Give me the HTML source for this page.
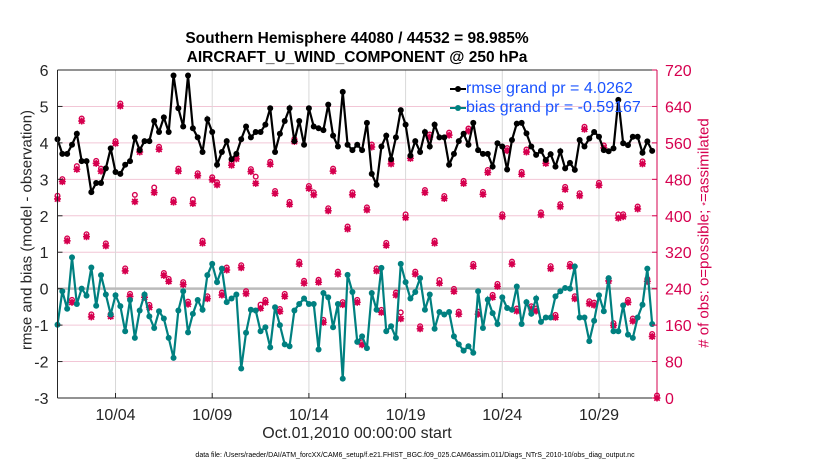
<!DOCTYPE html>
<html><head><meta charset="utf-8"><style>
body{margin:0;background:#fff;font-family:"Liberation Sans",sans-serif}
svg text{font-family:"Liberation Sans",sans-serif}
</style></head><body>
<svg id="c" width="830" height="470" viewBox="0 0 830 470"></svg>
<script>
const dayTicks = [3,8,13,18,23,28];
const dayTickLabels = ["10/04","10/09","10/14","10/19","10/24","10/29"];
const leftTicks = [-3,-2,-1,0,1,2,3,4,5,6];
const rightTicks = [0,80,160,240,320,400,480,560,640,720];
const rmse = [4.1,3.7,3.7,3.95,4.25,3.5,3.5,2.65,2.9,2.9,3.3,3.85,3.2,3.15,3.4,3.5,4.15,3.8,4.05,4.05,4.6,4.3,4.7,4.3,5.85,4.95,4.45,5.85,4.4,4.15,3.75,4.65,4.3,3.4,3.75,4.05,3.55,3.7,4.1,4.45,4.15,4.3,4.3,4.5,
4.95,3.75,4.25,4.6,4.95,4.05,4.6,3.95,4.95,4.45,4.4,4.35,5.05,4.2,3.9,5.4,3.95,3.8,3.95,3.8,4.55,3.15,2.85,3.9,4.2,3.55,4.15,4.9,4.5,3.65,4.05,3.75,4.3,3.9,4.5,4.15,4.15,3.4,3.7,4.05,4.25,
3.95,4.55,3.8,3.7,3.7,3.35,3.99,3.9,3.27,4.08,4.53,4.55,4.26,3.9,3.67,3.78,3.53,3.69,3.35,3.77,3.3,3.45,3.26,4.08,3.9,4.12,4.3,4.17,3.8,3.77,3.85,5.18,3.99,3.94,4.17,4.17,3.73,4.04,3.78];
const bias = [-0.99,-0.07,-0.55,0.86,-0.42,0,-0.19,0.58,-0.47,0.37,-0.16,-0.71,-0.18,-0.48,-1.17,-0.31,-1.35,-0.6,-0.16,-0.76,-1.08,-0.62,-0.82,-1.35,-1.9,-0.6,-0.07,-1.2,-0.69,-0.31,-0.58,0.37,0.68,0.18,0.55,-0.37,-0.27,-0.16,-2.19,-1.21,-0.58,-0.6,-1.17,-1.06,
-1.61,-0.51,-1.0,-1.53,-1.58,-0.6,-0.42,-0.27,-0.42,-0.42,-1.67,-0.12,-0.24,-1.06,-0.42,-2.47,0.38,-0.09,-1.46,-1.31,-1.63,-0.12,-0.58,0.57,-1.17,-1.03,-1.35,0.68,0.18,-0.27,-0.09,0.29,-0.58,-0.16,-1.1,-0.64,-0.71,-0.64,-1.31,-1.53,-1.7,
-1.58,-1.76,-0.07,-1.08,-0.3,-0.67,-0.97,-0.24,-0.53,-0.58,0.06,-0.97,-0.37,-0.69,-0.27,-0.91,-0.79,-0.79,-0.21,-0.07,0.02,0,0.61,-0.79,-0.79,-1.44,-0.88,-0.18,-0.62,0.29,-1.17,-1.17,-0.46,-1.26,-1.35,-0.79,-0.44,0.55,-0.97];
const nPossible = [444,475,345,210,509,608,354,178,515,498,334,179,564,641,279,223,446,540,221,199,462,546,269,256,430,498,249,206,436,488,340,218,479,468,226,281,511,525,286,229,497,486,205,210,
513,449,190,223,425,563,294,252,460,446,254,166,411,498,272,205,371,446,210,117,413,551,279,188,335,514,226,188,403,526,272,152,451,573,340,259,438,577,234,184,471,
586,289,184,447,495,221,245,398,543,294,191,491,540,196,191,402,515,284,177,420,458,289,218,444,590,207,204,467,549,257,159,403,398,210,169,415,514,256,135,0];
const nAssim = [437,475,345,210,502,608,354,178,515,498,334,179,559,641,279,223,431,540,221,199,451,546,269,256,430,498,249,206,427,488,340,218,479,468,226,281,511,525,286,229,497,471,197,210,
513,449,190,223,425,563,294,252,460,446,254,166,411,498,272,205,371,446,210,117,413,551,279,188,335,514,226,174,396,526,272,152,451,573,340,252,438,577,234,184,471,
586,289,184,447,495,221,245,398,543,294,191,491,540,196,191,402,515,284,177,420,458,289,218,444,590,207,204,467,549,257,159,395,398,210,169,415,514,256,135,0];

const L=57.5,R=657,T=70,B=398,DAYS=31;
const xs=d=>L+(R-L)*d/DAYS;
const yl=v=>B-(B-T)*(v+3)/9;
const yr=v=>B-(B-T)*v/720;
const svg=document.getElementById('c');
const NS='http://www.w3.org/2000/svg';
function mk(tag,at,parent){const e=document.createElementNS(NS,tag);for(const k in at)e.setAttribute(k,at[k]);(parent||svg).appendChild(e);return e;}
const MAG='#d6004f',TEAL='#008080';
leftTicks.forEach(v=>{const g=mk('line',{x1:L,x2:R,y1:yl(v),y2:yl(v),stroke:'#f2c6d6','stroke-width':1});

});
dayTicks.forEach(d=>{const g=mk('line',{x1:xs(d),x2:xs(d),y1:T,y2:B,stroke:'#d8d8d8','stroke-width':1});

});
const zl=mk('line',{x1:L,x2:R,y1:yl(0),y2:yl(0),stroke:'#bbbbbb','stroke-width':2.5});


const dt=0.25;
nAssim.forEach((v,i)=>{const x=xs(i*dt),y=yr(v);
const g=mk('g',{stroke:MAG,'stroke-width':1.5,fill:'none'});


mk('line',{x1:x-3.5,x2:x+3.5,y1:y,y2:y},g);mk('line',{x1:x,x2:x,y1:y-3.5,y2:y+3.5},g);
mk('line',{x1:x-2.7,x2:x+2.7,y1:y-2.7,y2:y+2.7},g);mk('line',{x1:x-2.7,x2:x+2.7,y1:y+2.7,y2:y-2.7},g);
mk('circle',{cx:x,cy:y,r:2,fill:MAG},g);});
nPossible.forEach((v,i)=>{const x=xs(i*dt),y=yr(v)-(v>nAssim[i]?0:2.5);
const c=mk('circle',{cx:x,cy:y,r:2.3,stroke:MAG,'stroke-width':1.4,fill:'none'});

});
function series(arr,col,name){
const p=mk('polyline',{points:arr.map((v,i)=>xs(i*dt)+','+yl(v)).join(' '),fill:'none',stroke:col,'stroke-width':2.2});


arr.forEach((v,i)=>{const c=mk('circle',{cx:xs(i*dt),cy:yl(v),r:3,fill:col});

});}
series(rmse,'#000','rmse');
series(bias,TEAL,'bias');
mk('line',{x1:L,x2:R,y1:T,y2:T,stroke:'#262626'});
mk('line',{x1:L,x2:R,y1:B,y2:B,stroke:'#262626'});
mk('line',{x1:L,x2:L,y1:T,y2:B,stroke:'#262626'});
mk('line',{x1:R,x2:R,y1:T,y2:B,stroke:MAG});
leftTicks.forEach(v=>{mk('line',{x1:L,x2:L+5,y1:yl(v),y2:yl(v),stroke:'#262626'});
const t=mk('text',{x:L-9,y:yl(v)+6,'text-anchor':'end','font-size':16,fill:'#262626'});t.textContent=v;

});
rightTicks.forEach(v=>{mk('line',{x1:R-5,x2:R,y1:yr(v),y2:yr(v),stroke:MAG});
const t=mk('text',{x:R+8,y:yr(v)+6,'font-size':16,fill:MAG});t.textContent=v;

});
dayTicks.forEach((d,i)=>{mk('line',{x1:xs(d),x2:xs(d),y1:B,y2:B-5,stroke:'#262626'});
const t=mk('text',{x:xs(d),y:B+22,'text-anchor':'middle','font-size':16,fill:'#262626'});t.textContent=dayTickLabels[i];

});
</script>
<div style="position:absolute;left:0;top:0;width:830px;height:470px;pointer-events:none">
<div style="position:absolute;left:157px;width:400px;top:29px;text-align:center;font-weight:bold;font-size:15.5px;line-height:19px;color:#000">Southern Hemisphere 44080 / 44532 = 98.985%<br>AIRCRAFT_U_WIND_COMPONENT @ 250 hPa</div>
<div style="position:absolute;left:448px;top:79px;width:208px;height:40px">
<svg width="20" height="40" style="position:absolute;left:0;top:0"><line x1="2" x2="18" y1="10" y2="10" stroke="#000" stroke-width="2"/><circle cx="10" cy="10" r="3"/><line x1="2" x2="18" y1="29" y2="29" stroke="#008080" stroke-width="2"/><circle cx="10" cy="29" r="3" fill="#008080"/></svg>
<div style="position:absolute;left:18px;top:1px;font-size:16px;color:#1a53ff;white-space:nowrap">rmse grand pr = 4.0262</div>
<div style="position:absolute;left:18px;top:20px;font-size:16px;color:#1a53ff;white-space:nowrap">bias grand pr = -0.59167</div>
</div>
<div style="position:absolute;left:27px;top:230px;width:0;height:0"><div style="position:absolute;transform:translate(-50%,-50%) rotate(-90deg);white-space:nowrap;font-size:15px;color:#262626">rmse and bias (model - observation)</div></div>
<div style="position:absolute;left:704px;top:233px;width:0;height:0"><div style="position:absolute;transform:translate(-50%,-50%) rotate(-90deg);white-space:nowrap;font-size:15px;color:#d6004f"># of obs: o=possible; <span style="font-size:9px">*</span>=assimilated</div></div>
<div style="position:absolute;left:157px;width:400px;top:425px;text-align:center;font-size:16px;color:#262626">Oct.01,2010 00:00:00 start</div>
<div style="position:absolute;left:0;width:830px;top:452px;text-align:center;font-size:7px;color:#000">data file: /Users/raeder/DAI/ATM_forcXX/CAM6_setup/f.e21.FHIST_BGC.f09_025.CAM6assim.011/Diags_NTrS_2010-10/obs_diag_output.nc</div>
</div>
</body></html>
